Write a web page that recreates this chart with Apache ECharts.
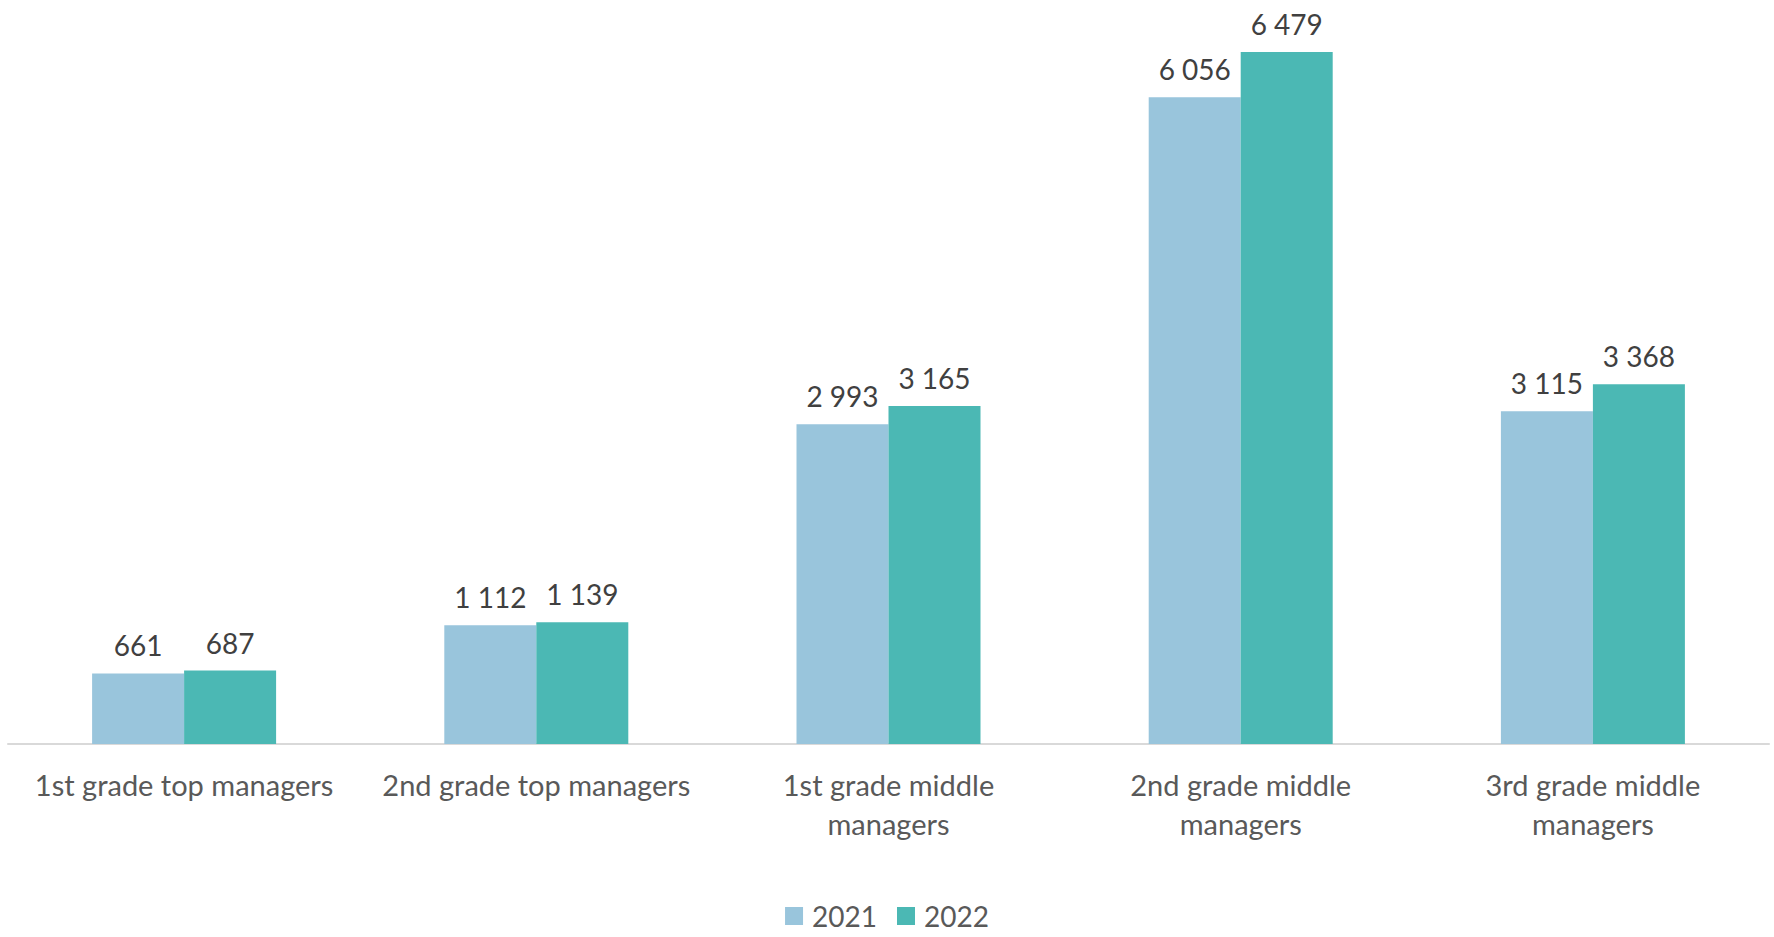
<!DOCTYPE html>
<html>
<head>
<meta charset="utf-8">
<script src="https://cdn.jsdelivr.net/npm/echarts@6/dist/echarts.min.js"></script>
<style>
  html, body { margin: 0; padding: 0; background: #fff; }
  #chart { width: 1774px; height: 937px; }
</style>
</head>
<body>
<div id="chart"></div>
<script>
var categories = [
  '1st grade top managers',
  '2nd grade top managers',
  '1st grade middle\nmanagers',
  '2nd grade middle\nmanagers',
  '3rd grade middle\nmanagers'
];
var years = ['2021', '2022'];
var values2021 = [661, 1112, 2993, 6056, 3115];
var values2022 = [687, 1139, 3165, 6479, 3368];

function fmt(v) {
  return String(v).replace(/\B(?=(\d{3})+(?!\d))/g, ' ');
}

var chart = echarts.init(document.getElementById('chart'), null, { renderer: 'svg' });
var font = 'Lato, "Open Sans", sans-serif';
var labelStyle = {
  show: true,
  position: 'top',
  distance: 14,
  color: '#404040',
  fontSize: 28,
  fontFamily: font,
  formatter: function(p) { return fmt(p.value); }
};

chart.setOption({
  animation: false,
  textStyle: { fontFamily: font },
  grid: { left: 8, right: 5, top: 52, bottom: 193 },
  legend: {
    data: years,
    bottom: 2,
    left: 'center',
    icon: 'rect',
    itemWidth: 18,
    itemHeight: 18,
    itemGap: 20,
    textStyle: { color: '#595959', fontSize: 28, fontFamily: font, padding: [0, 0, 0, 4] }
  },
  xAxis: {
    type: 'category',
    data: categories,
    axisLine: { lineStyle: { color: '#d9d9d9', width: 2 } },
    axisTick: { show: false },
    axisLabel: {
      color: '#595959',
      fontSize: 29,
      fontFamily: font,
      lineHeight: 39,
      margin: 21,
      interval: 0
    }
  },
  yAxis: {
    type: 'value',
    min: 0,
    max: 6479,
    show: false,
    splitLine: { show: false }
  },
  series: [
    {
      name: years[0],
      type: 'bar',
      data: values2021,
      barWidth: 92,
      barGap: '0%',
      itemStyle: { color: '#99c5dc' },
      label: labelStyle
    },
    {
      name: years[1],
      type: 'bar',
      data: values2022,
      barWidth: 92,
      barGap: '0%',
      itemStyle: { color: '#4bb8b4' },
      label: labelStyle
    }
  ]
});
</script>
</body>
</html>
